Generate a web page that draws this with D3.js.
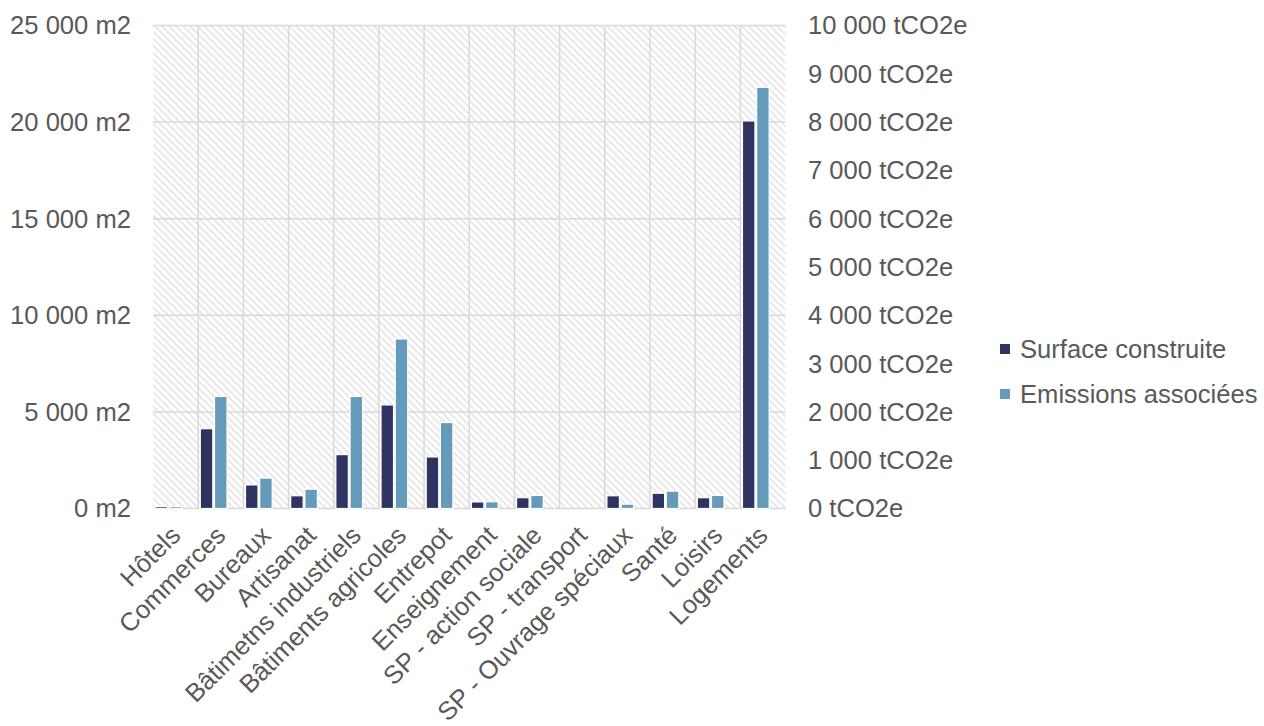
<!DOCTYPE html>
<html>
<head>
<meta charset="utf-8">
<script src="https://cdn.jsdelivr.net/npm/d3@7"></script>
<style>
  html, body { margin: 0; padding: 0; background: #fff; }
  svg { display: block; }
  text { font-family: "Liberation Sans", Arial, sans-serif; fill: #595959; }
</style>
</head>
<body>
<svg id="chart" width="1264" height="726"></svg>
<script>
// Categories of buildings
const categories = [
  "Hôtels", "Commerces", "Bureaux", "Artisanat", "Bâtimetns industriels",
  "Bâtiments agricoles", "Entrepot", "Enseignement", "SP - action sociale",
  "SP - transport", "SP - Ouvrage spéciaux", "Santé", "Loisirs", "Logements"
];
// Built surface (m2), left axis
const surface = [100, 4130, 1220, 660, 2790, 5360, 2670, 340, 560, 0, 660, 790, 560, 20060];
// Associated emissions (tCO2e), right axis
const emissions = [40, 2320, 630, 400, 2320, 3510, 1780, 140, 270, 0, 90, 360, 270, 8720];

const leftTicks = [0, 5000, 10000, 15000, 20000, 25000];
const rightTicks = [0, 1000, 2000, 3000, 4000, 5000, 6000, 7000, 8000, 9000, 10000];
const seriesNames = ["Surface construite", "Emissions associées"];
const colors = ["#2e3461", "#659bba"];

const fmt = v => d3.format(",")(v).replace(/,/g, " ");
const FS = 25.6;

const svg = d3.select("#chart");
const plot = { left: 153, right: 785.5, top: 25.5, bottom: 508.5 };

// Diagonal hatch for the plot background
const defs = svg.append("defs");
const pat = defs.append("pattern")
  .attr("id", "hatch")
  .attr("patternUnits", "userSpaceOnUse")
  .attr("width", 5).attr("height", 5)
  .attr("patternTransform", "rotate(-45)");
pat.append("rect").attr("width", 5).attr("height", 5).attr("fill", "#fff");
pat.append("line").attr("x1", 1).attr("x2", 1).attr("y1", 0).attr("y2", 5)
  .attr("stroke", "#e3e3e3").attr("stroke-width", 1.6);

svg.append("rect")
  .attr("x", plot.left).attr("y", plot.top)
  .attr("width", plot.right - plot.left).attr("height", plot.bottom - plot.top)
  .attr("fill", "url(#hatch)");

const x0 = d3.scaleBand().domain(categories).range([plot.left, plot.right]).paddingInner(0).paddingOuter(0);
// Three slots per category; the third slot is left empty
const x1 = d3.scaleBand().domain(["s", "e", "_"]).range([0, x0.bandwidth()]).paddingOuter(0.15).paddingInner(0.12);
const yL = d3.scaleLinear().domain([0, 25000]).range([plot.bottom, plot.top]);
const yR = d3.scaleLinear().domain([0, 10000]).range([plot.bottom, plot.top]);

// Horizontal gridlines
svg.append("g").selectAll("line").data(leftTicks.slice(1)).join("line")
  .attr("x1", plot.left).attr("x2", plot.right)
  .attr("y1", d => yL(d)).attr("y2", d => yL(d))
  .attr("stroke", "#d9d9d9").attr("stroke-width", 1.5);

// Vertical gridlines between categories
svg.append("g").selectAll("line").data(categories.slice(1)).join("line")
  .attr("x1", d => x0(d)).attr("x2", d => x0(d))
  .attr("y1", plot.top).attr("y2", plot.bottom)
  .attr("stroke", "#d9d9d9").attr("stroke-width", 1.5);

// Category axis line
svg.append("line")
  .attr("x1", plot.left).attr("x2", plot.right)
  .attr("y1", plot.bottom).attr("y2", plot.bottom)
  .attr("stroke", "#d9d9d9").attr("stroke-width", 1.5);

// Bars
const bars = svg.append("g");
bars.selectAll("rect.s").data(categories).join("rect")
  .attr("class", "s")
  .attr("x", d => x0(d) + x1("s"))
  .attr("width", x1.bandwidth())
  .attr("y", (d, i) => yL(surface[i]))
  .attr("height", (d, i) => plot.bottom - yL(surface[i]))
  .attr("fill", colors[0]).attr("stroke", "#fff").attr("stroke-width", 1.2);
bars.selectAll("rect.e").data(categories).join("rect")
  .attr("class", "e")
  .attr("x", d => x0(d) + x1("e"))
  .attr("width", x1.bandwidth())
  .attr("y", (d, i) => yR(emissions[i]))
  .attr("height", (d, i) => plot.bottom - yR(emissions[i]))
  .attr("fill", colors[1]).attr("stroke", "#fff").attr("stroke-width", 1.2);

// Left axis labels
svg.append("g").selectAll("text").data(leftTicks).join("text")
  .attr("x", 131).attr("y", d => yL(d)).attr("dy", "0.35em")
  .attr("text-anchor", "end").attr("font-size", FS)
  .text(d => fmt(d) + " m2");

// Right axis labels
svg.append("g").selectAll("text").data(rightTicks).join("text")
  .attr("x", 808).attr("y", d => yR(d)).attr("dy", "0.35em")
  .attr("text-anchor", "start").attr("font-size", FS)
  .text(d => fmt(d) + " tCO2e");

// Rotated category labels
svg.append("g").selectAll("text").data(categories).join("text")
  .attr("text-anchor", "end").attr("font-size", FS).attr("dy", "0.35em")
  .attr("transform", d => `translate(${x0(d) + x0.bandwidth() / 2},${plot.bottom + 22}) rotate(-45)`)
  .text(d => d);

// Legend
const legend = svg.append("g").attr("transform", "translate(1000,349)");
seriesNames.forEach((name, i) => {
  const g = legend.append("g").attr("transform", `translate(0,${i * 45})`);
  g.append("rect").attr("x", 0).attr("y", -5).attr("width", 10).attr("height", 10).attr("fill", colors[i]);
  g.append("text").attr("x", 20).attr("y", 0).attr("dy", "0.35em").attr("font-size", FS).text(name);
});
</script>
</body>
</html>
